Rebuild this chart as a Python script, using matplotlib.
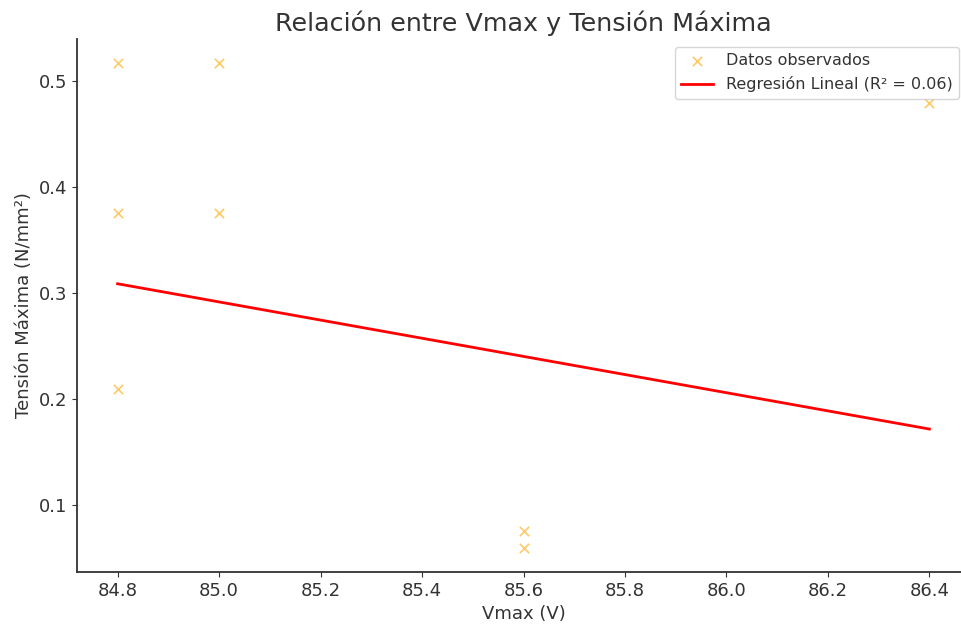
import numpy as np
import matplotlib.pyplot as plt

# datos
vmax = [84.8, 85.0, 84.8, 85.0, 84.8, 85.6, 85.6, 86.4]
tension = [0.517, 0.517, 0.376, 0.376, 0.210, 0.0755, 0.060, 0.479]

# recta de regresion (extremos)
fit_x = [84.8, 86.4]
fit_y = [0.309, 0.172]
r2 = 0.06

plt.rcParams['text.color'] = '#333333'
plt.rcParams['axes.labelcolor'] = '#333333'
plt.rcParams['xtick.color'] = '#333333'
plt.rcParams['ytick.color'] = '#333333'

fig = plt.figure(figsize=(9.62, 6.26), dpi=100)
ax = fig.add_axes([77/962, 54/626, (970-77)/962, 533/626])

ax.scatter(vmax, tension, marker='x', color='orange', alpha=0.6, s=45,
           linewidths=1.2, label="Datos observados")
ax.plot(fit_x, fit_y, color='red', linewidth=2,
        label=f"Regresión Lineal (R² = {r2:.2f})")

ax.set_xlim(84.72, 86.48)
ax.set_ylim(0.0372, 0.5398)
ax.set_xticks(np.arange(84.8, 86.41, 0.2))
ax.set_yticks([0.1, 0.2, 0.3, 0.4, 0.5])
ax.tick_params(labelsize=13)

ax.set_xlabel("Vmax (V)", fontsize=13)
ax.set_ylabel("Tensión Máxima (N/mm²)", fontsize=13)
ax.set_title("Relación entre Vmax y Tensión Máxima", fontsize=18.3)

ax.spines['top'].set_visible(False)
ax.spines['right'].set_visible(False)
for s in ['left', 'bottom']:
    ax.spines[s].set_linewidth(1.3)
    ax.spines[s].set_color('#333333')

ax.legend(loc='upper right', fontsize=11.5, bbox_to_anchor=(0.997, 1.0))

fig.savefig("out.png", dpi=100)
